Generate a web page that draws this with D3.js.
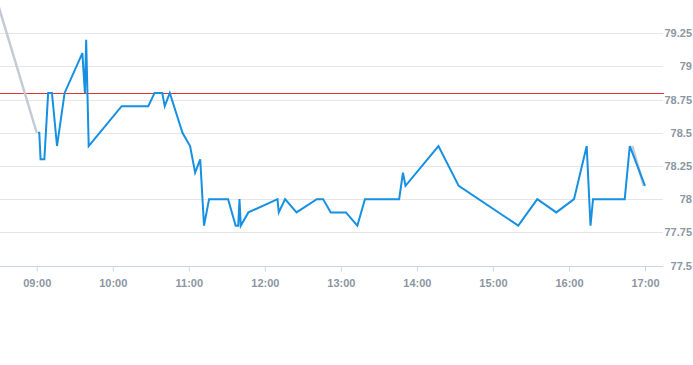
<!DOCTYPE html>
<html>
<head>
<meta charset="utf-8">
<script src="https://cdn.jsdelivr.net/npm/d3@7"></script>
<style>
  body { margin: 0; background: #fff; }
  text { font-family: "Liberation Sans", Arial, sans-serif; }
</style>
</head>
<body>
<div class="chart"></div>
<script>
// price ticks for the day
var times = ["09:01","09:02","09:03","09:06","09:09","09:12","09:16","09:22","09:36","09:38","09:39","09:41",
  "10:07","10:28","10:33","10:39","10:41","10:45","10:55","11:01","11:05","11:09","11:12","11:16","11:31",
  "11:37","11:39","11:40","11:41","11:47","12:10","12:11","12:16","12:25","12:41","12:46","12:52","13:04",
  "13:13","13:19","13:46","13:49","13:51","14:17","14:33","15:20","15:35","15:50","16:04","16:14","16:17",
  "16:19","16:44","16:48","17:00"];
var prices = [78.5,78.5,78.3,78.3,78.8,78.8,78.4,78.8,79.1,78.8,79.2,78.4,
  78.7,78.7,78.8,78.8,78.7,78.8,78.5,78.4,78.2,78.3,77.8,78.0,78.0,
  77.8,77.8,78.0,77.8,77.9,78.0,77.9,78.0,77.9,78.0,78.0,77.9,77.9,
  77.8,78.0,78.0,78.2,78.1,78.4,78.1,77.8,78.0,77.9,78.0,78.4,77.8,
  78.0,78.0,78.4,78.1];

// grey series, only visible at both ends
var greyHeadTimes = ["08:30","09:00"];
var greyHeadValues = [79.45,78.5];
var greyTailTimes = ["16:50","16:59"];
var greyTailValues = [78.4,78.1];

var prevClose = 78.8;
var yTicks = [77.5,77.75,78,78.25,78.5,78.75,79,79.25];
var xTicks = ["09:00","10:00","11:00","12:00","13:00","14:00","15:00","16:00","17:00"];

var w = 693, h = 365;
var pw = 664, ph = 265.5;
var parse = d3.timeParse("%H:%M");
var labelColor = "#8b96a2";

var svg = d3.select(".chart").append("svg")
  .attr("width", w).attr("height", h);

var x = d3.scaleTime().domain([parse("08:31"), parse("17:15")]).range([0, pw]);
var y = d3.scaleLinear().domain([77.5, 79.5]).range([ph, 0]);

svg.append("clipPath").attr("id", "clip")
  .append("rect").attr("width", pw).attr("height", ph);

// grid
svg.selectAll(".grid").data(yTicks).enter().append("line")
  .attr("class", "grid")
  .attr("x1", 0).attr("x2", pw - 1)
  .attr("y1", function(d){ return Math.round(y(d)) + 0.5; })
  .attr("y2", function(d){ return Math.round(y(d)) + 0.5; })
  .attr("stroke", "#e6e6e6");

// y labels
svg.selectAll(".ylab").data(yTicks).enter().append("text")
  .attr("class", "ylab")
  .attr("x", 692)
  .attr("y", function(d){ return y(d) + 4; })
  .attr("text-anchor", "end")
  .attr("font-size", "11px")
  .attr("font-weight", "bold")
  .attr("fill", labelColor)
  .text(function(d){ return d; });

// x axis
var xAxis = d3.axisBottom(x)
  .tickValues(xTicks.map(parse))
  .tickFormat(d3.timeFormat("%H:%M"))
  .tickSizeInner(5).tickSizeOuter(0);

var gx = svg.append("g").attr("transform", "translate(0," + (Math.round(ph) + 0.5) + ")").call(xAxis);
gx.select(".domain").attr("stroke", "#ccd6eb").attr("d", "M0,0H" + (pw - 1));
gx.selectAll(".tick line").attr("stroke", "#ccd6eb");
gx.selectAll(".tick text").attr("fill", labelColor).attr("font-size", "11px")
  .attr("font-weight", "bold")
  .attr("font-family", "Liberation Sans, Arial, sans-serif").attr("dy", "1.1em");

// prev close line
svg.append("line")
  .attr("x1", 0).attr("x2", pw)
  .attr("y1", Math.round(y(prevClose)) + 0.5).attr("y2", Math.round(y(prevClose)) + 0.5)
  .attr("stroke", "#e0352b")
  .attr("stroke-width", 1);

var line = d3.line()
  .x(function(d){ return x(d[0]); })
  .y(function(d){ return y(d[1]); });

var plot = svg.append("g").attr("clip-path", "url(#clip)");

function pairs(ts, vs) {
  return ts.map(function(t, i){ return [parse(t), vs[i]]; });
}

[pairs(greyHeadTimes, greyHeadValues), pairs(greyTailTimes, greyTailValues)].forEach(function(p){
  plot.append("path").datum(p)
    .attr("d", line)
    .attr("fill", "none")
    .attr("stroke", "#c3ccd4")
    .attr("stroke-width", 2.5);
});

plot.append("path").datum(pairs(times, prices))
  .attr("d", line)
  .attr("fill", "none")
  .attr("stroke", "#1590e2")
  .attr("stroke-width", 2)
  .attr("stroke-linejoin", "miter");
</script>
</body>
</html>
